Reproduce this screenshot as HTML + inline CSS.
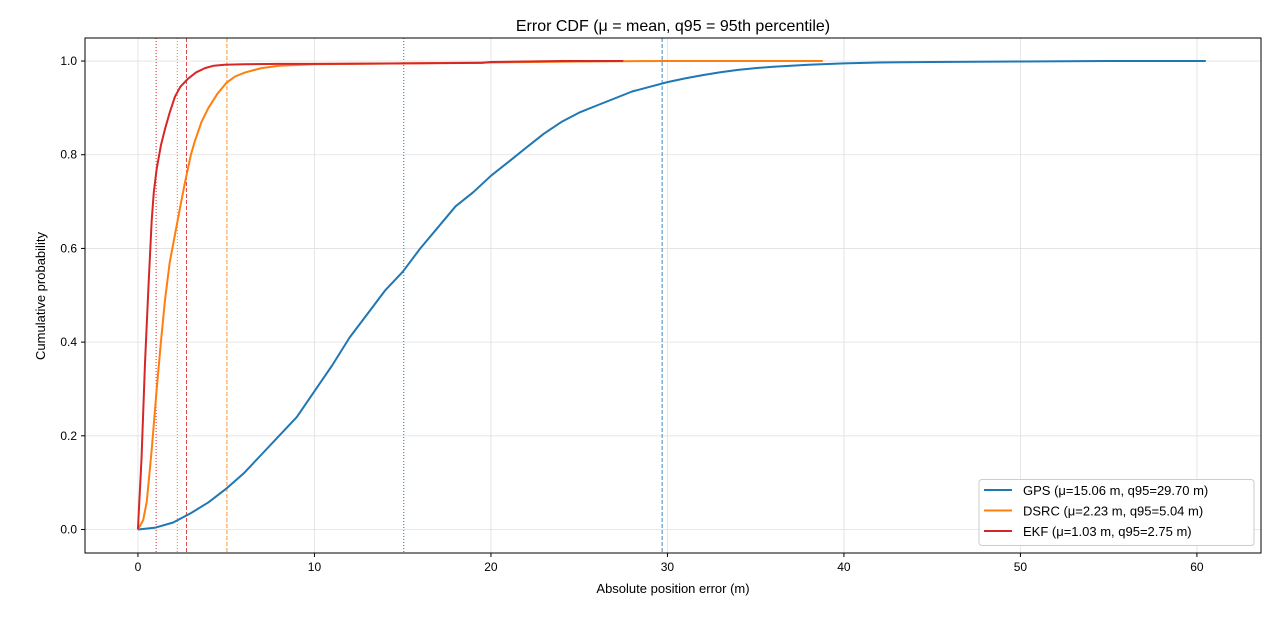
<!DOCTYPE html>
<html><head><meta charset="utf-8"><style>
body{margin:0;background:#fff;}
svg text{font-family:"Liberation Sans","DejaVu Sans",sans-serif;}
</style></head><body>
<svg id="chart" width="1280" height="612" xmlns="http://www.w3.org/2000/svg"></svg>
<script>
const seriesNames = ["GPS", "DSRC", "EKF"];
const seriesColors = ["#1f77b4", "#ff7f0e", "#d62728"];
const seriesMeans = [15.06, 2.23, 1.03];
const seriesQ95 = [29.70, 5.04, 2.75];
const gpsX = [0,1,2,3,4,5,6,7,8,9,10,11,12,13,14,15,16,17,18,19,20,21,22,23,24,25,26,27,28,29,30,31,32,33,34,35,36,37,38,40,42,45,50,55,60.5];
const gpsY = [0,0.004,0.015,0.035,0.058,0.087,0.12,0.16,0.2,0.24,0.295,0.35,0.41,0.46,0.51,0.55,0.6,0.645,0.69,0.72,0.755,0.785,0.815,0.845,0.87,0.89,0.905,0.92,0.935,0.945,0.955,0.963,0.97,0.976,0.981,0.985,0.988,0.99,0.992,0.995,0.997,0.998,0.999,1,1];
const dsrcX = [0,0.3,0.5,0.78,1.06,1.3,1.53,1.8,2.1,2.4,2.66,3.0,3.23,3.6,3.99,4.5,5.0,5.5,6.1,7,8,10,15,20,25,30,38.8];
const dsrcY = [0,0.02,0.06,0.17,0.3,0.4,0.49,0.57,0.63,0.69,0.74,0.8,0.83,0.87,0.9,0.93,0.953,0.967,0.976,0.985,0.99,0.993,0.995,0.997,0.999,1,1];
const ekfX = [0,0.2,0.4,0.6,0.78,0.9,1.06,1.3,1.53,1.8,2.1,2.4,2.83,3.3,3.8,4.3,4.9,6,8,10,15,19.5,20,24,27.5];
const ekfY = [0,0.15,0.355,0.52,0.66,0.72,0.77,0.82,0.855,0.89,0.924,0.945,0.962,0.976,0.985,0.99,0.992,0.993,0.994,0.994,0.995,0.996,0.998,1,1];
const xTicks = [0,10,20,30,40,50,60];
const yTicks = [0,0.2,0.4,0.6,0.8,1.0];

const L=85,R=1261,T=38,B=553;
const xMin=-3.0,xMax=63.63,yMin=-0.0502,yMax=1.0492;
const sx=v=>L+(v-xMin)/(xMax-xMin)*(R-L);
const sy=v=>B-(v-yMin)/(yMax-yMin)*(B-T);
const svg=document.getElementById('chart');
const NS="http://www.w3.org/2000/svg";
function mk(tag,attrs,parent){const e=document.createElementNS(NS,tag);for(const k in attrs)e.setAttribute(k,attrs[k]);(parent||svg).appendChild(e);return e;}

// grid
xTicks.forEach(t=>{const g=mk('line',{x1:sx(t),x2:sx(t),y1:T,y2:B,stroke:'#e0e0e0','stroke-width':0.8});

});
yTicks.forEach(t=>{const g=mk('line',{x1:L,x2:R,y1:sy(t),y2:sy(t),stroke:'#e0e0e0','stroke-width':0.8});

});

// vertical reference lines
seriesNames.forEach((n,i)=>{
  const m=mk('line',{x1:sx(seriesMeans[i]),x2:sx(seriesMeans[i]),y1:T,y2:B,stroke:seriesColors[i],'stroke-width':1,'stroke-dasharray':'1,2'});
  
  
  const q=mk('line',{x1:sx(seriesQ95[i]),x2:sx(seriesQ95[i]),y1:T,y2:B,stroke:seriesColors[i],'stroke-width':1,'stroke-dasharray':'4,2','stroke-opacity':0.85});
  
  
});

// curves
const xs=[gpsX,dsrcX,ekfX], ys=[gpsY,dsrcY,ekfY];
seriesNames.forEach((n,i)=>{
  const d=xs[i].map((x,j)=>(j?'L':'M')+sx(x).toFixed(1)+','+sy(ys[i][j]).toFixed(1)).join(' ');
  const p=mk('path',{d:d,fill:'none',stroke:seriesColors[i],'stroke-width':2,'stroke-linejoin':'round'});
  
  
});

// frame
const fr=mk('rect',{x:L,y:T,width:R-L,height:B-T,fill:'none',stroke:'#000','stroke-width':1});



// ticks
xTicks.forEach(t=>{mk('line',{x1:sx(t),x2:sx(t),y1:B,y2:B+4,stroke:'#000'});
const tx=mk('text',{x:sx(t),y:B+18,'text-anchor':'middle','font-size':12,fill:'#000'});tx.textContent=t;

});
yTicks.forEach(t=>{mk('line',{x1:L-4,x2:L,y1:sy(t),y2:sy(t),stroke:'#000'});
const tx=mk('text',{x:L-8,y:sy(t)+4,'text-anchor':'end','font-size':12,fill:'#000'});tx.textContent=t.toFixed(1);

});

// titles
const ti=mk('text',{x:673,y:31,'text-anchor':'middle','font-size':16,fill:'#000'});ti.textContent='Error CDF  (μ = mean, q95 = 95th percentile)';


const xt=mk('text',{x:673,y:593,'text-anchor':'middle','font-size':13,fill:'#000'});xt.textContent='Absolute position error (m)';


const yt=mk('text',{x:45,y:296,'text-anchor':'middle','font-size':13,fill:'#000',transform:'rotate(-90 45 296)'});yt.textContent='Cumulative probability';



// legend
const lg=mk('rect',{x:979,y:479.5,width:275,height:66,rx:3,fill:'#fff','fill-opacity':0.9,stroke:'#ccc'});


seriesNames.forEach((n,i)=>{
  const y=490+i*20.5;
  mk('line',{x1:984,x2:1012,y1:y,y2:y,stroke:seriesColors[i],'stroke-width':2});
  const t=mk('text',{x:1023,y:y+5,'font-size':13,fill:'#000'});
  t.textContent=n+' (μ='+seriesMeans[i].toFixed(2)+' m, q95='+seriesQ95[i].toFixed(2)+' m)';
  
  
});
</script>
</body></html>
